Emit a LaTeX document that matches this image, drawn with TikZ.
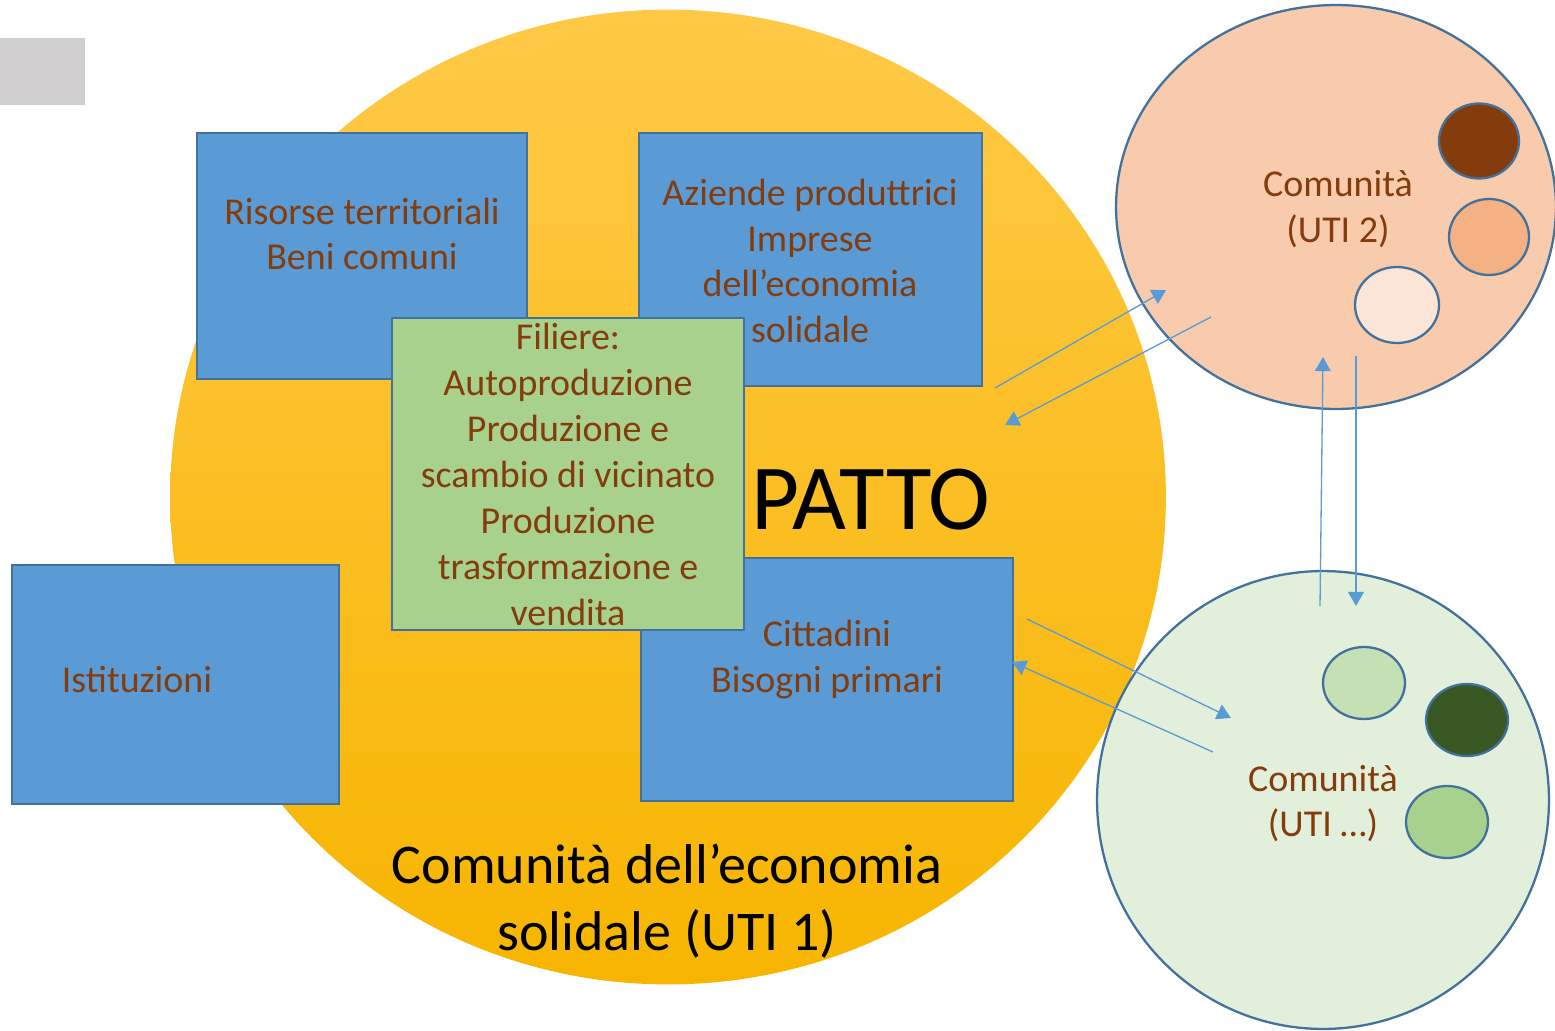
\documentclass[tikz,border=0pt]{standalone}
\usepackage{fontspec}
\setmainfont{Carlito}
\usetikzlibrary{arrows.meta,shapes.geometric}
\definecolor{boxblue}{HTML}{5B9BD5}
\definecolor{edgeblue}{HTML}{41719C}
\definecolor{txtbrown}{HTML}{843C0C}
\definecolor{greenbox}{HTML}{A9D18E}
\definecolor{peach}{HTML}{F8CBAD}
\definecolor{peachmid}{HTML}{F4B183}
\definecolor{peachlight}{HTML}{FBE5D6}
\definecolor{paleGreen}{HTML}{E2EFDA}
\definecolor{lightGreen}{HTML}{C5E0B4}
\definecolor{darkGreen}{HTML}{385723}
\definecolor{grayrect}{HTML}{D0CECE}
\definecolor{yelTop}{HTML}{FFC947}
\definecolor{yelMid}{HTML}{FFC203}
\definecolor{yelBot}{HTML}{F7B500}
\tikzset{
  box/.style={draw=edgeblue, line width=1.2pt, fill=boxblue, inner sep=0pt, outer sep=0pt},
  gbox/.style={draw=edgeblue, line width=1.2pt, fill=greenbox, inner sep=0pt, outer sep=0pt},
  btxt/.style={text=txtbrown, align=center, font=\fontsize{21.6}{26.1}\selectfont, inner sep=0pt},
  blob/.style={draw=edgeblue, line width=1.3pt},
  link/.style={draw=boxblue, line width=0.75pt, -{Triangle[length=8pt,width=9pt]}},
}
\begin{document}
\begin{tikzpicture}[x=0.02cm,y=-0.02cm]
\useasboundingbox (0,0) rectangle (1555,1031);
% gray rectangle
\fill[grayrect] (0,38) rectangle (85,105);
% main community
\shade[top color=yelTop, middle color=yelMid, bottom color=yelBot] (668,497) ellipse [x radius=9.96cm, y radius=9.75cm];
% UTI 2
\draw[blob, fill=peach] (1336,207) ellipse [x radius=4.4cm, y radius=4.04cm];
\draw[blob, fill=txtbrown] (1479,141) ellipse [x radius=0.8cm, y radius=0.75cm];
\draw[blob, fill=peachmid] (1489,237) ellipse [x radius=0.8cm, y radius=0.76cm];
\draw[blob, fill=peachlight] (1397,305) ellipse [x radius=0.84cm, y radius=0.76cm];
% UTI ...
\draw[blob, fill=paleGreen] (1323,800) ellipse [x radius=4.52cm, y radius=4.58cm];
\draw[blob, fill=lightGreen] (1364,683) ellipse [x radius=0.82cm, y radius=0.72cm];
\draw[blob, fill=darkGreen] (1467,720) ellipse [x radius=0.82cm, y radius=0.72cm];
\draw[blob, fill=greenbox] (1447,822) ellipse [x radius=0.82cm, y radius=0.72cm];
% boxes
\node (ris) [box, minimum width=6.6cm, minimum height=4.92cm] at (362,256) {};
\node (azi) [box, minimum width=6.86cm, minimum height=5.06cm] at (810.5,259.5) {};
\node (ist) [box, minimum width=6.54cm, minimum height=4.78cm] at (175.5,684.5) {};
\node (cit) [box, minimum width=7.44cm, minimum height=4.86cm] at (827,679.5) {};
\node (fil) [gbox, minimum width=7.04cm, minimum height=6.24cm] at (568,474) {};
% texts
\node (tris) [btxt] at (362,234) {Risorse territoriali\\Beni comuni};
\node (tazi) [btxt] at (810,261) {Aziende produttrici\\Imprese\\dell’economia\\solidale};
\node (tist) [btxt] at (137,680) {Istituzioni};
\node (tcit) [btxt] at (827,660) {Cittadini\\Bisogni primari};
\node (tfil) [btxt] at (568,474.5) {Filiere:\\Autoproduzione\\Produzione e\\scambio di vicinato\\Produzione\\trasformazione e\\vendita};
\node (tuti2) [btxt] at (1338,209.5) {Comunità\\(UTI 2)};
\node (tutin) [btxt] at (1323,803.5) {Comunità\\(UTI …)};
\node (patto) [inner sep=0pt, font=\fontsize{53}{62}\selectfont] at (871,500) {PATTO};
\node (comm) [inner sep=0pt, align=center, font=\fontsize{31.9}{38.5}\selectfont] at (667,901) {Comunità dell’economia\\solidale (UTI 1)};
% arrow end points
\coordinate (a1s) at (995,388); \coordinate (a1e) at (1166,290);
\coordinate (a2s) at (1211,317); \coordinate (a2e) at (1005,425);
\coordinate (a3s) at (1027,619); \coordinate (a3e) at (1231,718);
\coordinate (a4s) at (1213,752); \coordinate (a4e) at (1012,662);
\coordinate (a5s) at (1320,606); \coordinate (a5e) at (1323,357);
\coordinate (a6s) at (1356,356); \coordinate (a6e) at (1356,606);
\draw[link] (a1s) -- (a1e);
\draw[link] (a2s) -- (a2e);
\draw[link] (a3s) -- (a3e);
\draw[link] (a4s) -- (a4e);
\draw[link] (a5s) -- (a5e);
\draw[link] (a6s) -- (a6e);
\end{tikzpicture}
\end{document}
